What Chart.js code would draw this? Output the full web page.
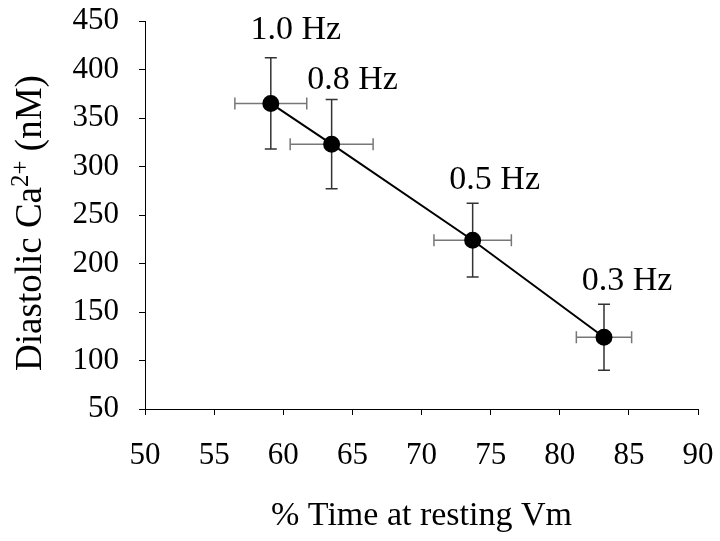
<!DOCTYPE html>
<html>
<head>
<meta charset="utf-8">
<script src="https://cdn.jsdelivr.net/npm/chart.js@4"></script>
<style>
  html, body { margin: 0; padding: 0; background: #fff; }
  #wrap { width: 720px; height: 541px; position: relative; }
</style>
</head>
<body>
<div id="wrap"><canvas id="chart"></canvas></div>
<script>
const freqLabels = ['1.0 Hz', '0.8 Hz', '0.5 Hz', '0.3 Hz'];
const restTime = [59.1, 63.5, 73.7, 83.2];
const restTimeErr = [2.6, 3.0, 2.8, 2.0];
const diastolicCa = [365, 323, 224, 124];
const diastolicCaErr = [47, 46, 38, 34];

const serif = "'Liberation Serif', 'Times New Roman', serif";

const errorBars = {
    id: 'errorBars',
    beforeDatasetsDraw(chart) {
        const ctx = chart.ctx;
        const xs = chart.scales.x, ys = chart.scales.y;
        const cap = 6;
        ctx.save();
        ctx.lineWidth = 1.5;
        restTime.forEach((x, i) => {
            const y = diastolicCa[i];
            const px = xs.getPixelForValue(x), py = ys.getPixelForValue(y);
            const x0 = xs.getPixelForValue(x - restTimeErr[i]);
            const x1 = xs.getPixelForValue(x + restTimeErr[i]);
            const y0 = ys.getPixelForValue(y - diastolicCaErr[i]);
            const y1 = ys.getPixelForValue(y + diastolicCaErr[i]);
            // horizontal bar
            ctx.strokeStyle = '#777';
            ctx.beginPath();
            ctx.moveTo(x0, py); ctx.lineTo(x1, py);
            ctx.moveTo(x0, py - cap); ctx.lineTo(x0, py + cap);
            ctx.moveTo(x1, py - cap); ctx.lineTo(x1, py + cap);
            ctx.stroke();
            // vertical bar
            ctx.strokeStyle = '#333';
            ctx.beginPath();
            ctx.moveTo(px, y0); ctx.lineTo(px, y1);
            ctx.moveTo(px - cap, y0); ctx.lineTo(px + cap, y0);
            ctx.moveTo(px - cap, y1); ctx.lineTo(px + cap, y1);
            ctx.stroke();
        });
        ctx.restore();
    },
    afterDatasetsDraw(chart) {
        const ctx = chart.ctx;
        const xs = chart.scales.x, ys = chart.scales.y;
        const offsets = [[25, -73], [21, -64], [22, -60], [23, -56]];
        ctx.save();
        ctx.fillStyle = '#000';
        ctx.font = '34px ' + serif;
        ctx.textAlign = 'center';
        ctx.textBaseline = 'middle';
        freqLabels.forEach((lab, i) => {
            const px = xs.getPixelForValue(restTime[i]);
            const py = ys.getPixelForValue(diastolicCa[i]);
            ctx.fillText(lab, px + offsets[i][0], py + offsets[i][1]);
        });
        ctx.restore();
    },
    afterDraw(chart) {
        // y-axis title with a real superscript
        const ctx = chart.ctx;
        const parts = [['Diastolic Ca', 37, 0], ['2+', 25, -13], [' (nM)', 37, 0]];
        ctx.save();
        ctx.fillStyle = '#000';
        ctx.textBaseline = 'alphabetic';
        let total = 0;
        parts.forEach(p => { ctx.font = p[1] + 'px ' + serif; total += ctx.measureText(p[0]).width; });
        ctx.translate(41, 223);
        ctx.rotate(-Math.PI / 2);
        let x = -total / 2;
        parts.forEach(p => {
            ctx.font = p[1] + 'px ' + serif;
            ctx.fillText(p[0], x, p[2]);
            x += ctx.measureText(p[0]).width;
        });
        ctx.restore();
    }
};

addEventListener('DOMContentLoaded', () => {
    const ctx = document.getElementById('chart').getContext('2d');
    new Chart(ctx, {
        type: 'scatter',
        data: {
            datasets: [{
                data: restTime.map((x, i) => ({ x: x, y: diastolicCa[i] })),
                showLine: true,
                borderColor: '#000',
                borderWidth: 2,
                backgroundColor: '#000',
                pointRadius: 7.5,
                pointHoverRadius: 7.5,
            }]
        },
        options: {
            responsive: true,
            maintainAspectRatio: false,
            animation: false,
            layout: { padding: { top: 21, right: 22, left: 0, bottom: 0 } },
            plugins: {
                legend: { display: false },
                tooltip: { enabled: false },
            },
            scales: {
                x: {
                    type: 'linear',
                    min: 50,
                    max: 90,
                    ticks: {
                        stepSize: 5,
                        color: '#000',
                        padding: 22,
                        font: { family: serif, size: 31 },
                    },
                    grid: { drawOnChartArea: false, color: '#000', tickLength: 6 },
                    border: { color: '#000', width: 1 },
                    title: {
                        display: true,
                        text: '% Time at resting Vm',
                        color: '#000',
                        font: { family: serif, size: 34 },
                        padding: { top: 0, bottom: 5 },
                    },
                    afterFit(scale) {
                        scale.height = 132;
                        scale.paddingLeft = 0;
                        scale.paddingRight = 0;
                    },
                },
                y: {
                    type: 'linear',
                    min: 50,
                    max: 450,
                    ticks: {
                        stepSize: 50,
                        color: '#000',
                        padding: 20,
                        font: { family: serif, size: 31 },
                    },
                    grid: { drawOnChartArea: false, color: '#000', tickLength: 6 },
                    border: { color: '#000', width: 1 },
                    title: { display: false },
                    afterFit(scale) {
                        scale.width = 145;
                        scale.paddingTop = 0;
                        scale.paddingBottom = 0;
                    },
                }
            }
        },
        plugins: [errorBars]
    });
});
</script>
</body>
</html>
